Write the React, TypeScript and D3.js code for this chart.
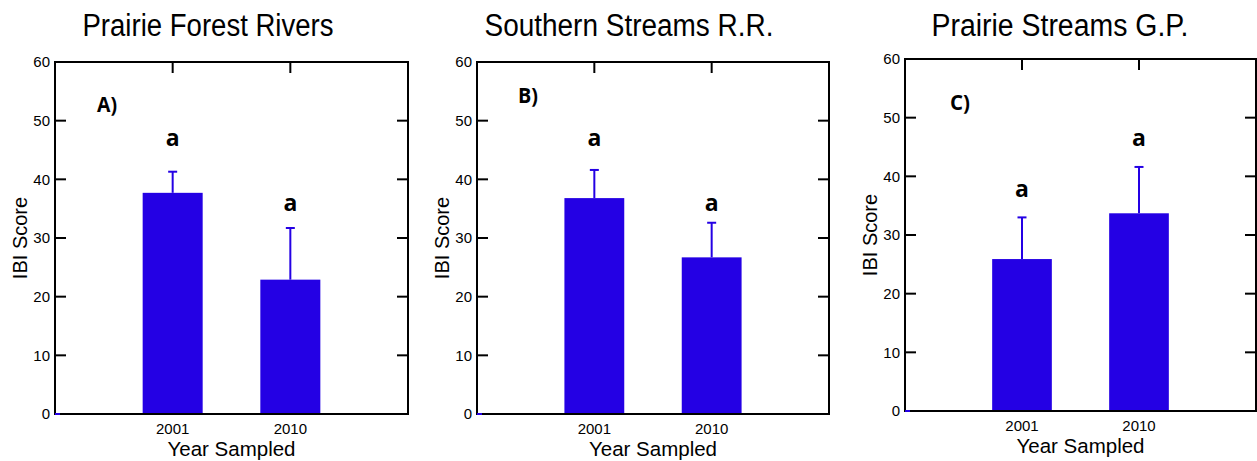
import React from "react";
import * as d3 from "d3";

const categories = ["2001", "2010"];
const panelTitles = ["Prairie Forest Rivers", "Southern Streams R.R.", "Prairie Streams G.P."];
const panelLetters = ["A)", "B)", "C)"];
const meansA = [37.7, 22.9];
const meansB = [36.8, 26.7];
const meansC = [25.9, 33.7];
const errA = [3.6, 8.8];
const errB = [4.8, 5.9];
const errC = [7.1, 7.9];
const sigLetters = ["a", "a"];
const sigPosA = [45.7, 34.6];
const sigPosB = [45.7, 34.6];
const sigPosC = [36.4, 45.2];
const yTicks = [0, 10, 20, 30, 40, 50, 60];

const BLUE = "#2400e4";

const panels = [
  { means: meansA, errs: errA, sig: sigPosA, left: 55, right: 408, top: 62, bottom: 414, titleX: 208, letterDx: 42, letterDy: 50 },
  { means: meansB, errs: errB, sig: sigPosB, left: 477, right: 829, top: 62, bottom: 414, titleX: 629, letterDx: 41, letterDy: 41 },
  { means: meansC, errs: errC, sig: sigPosC, left: 905, right: 1256, top: 59, bottom: 411, titleX: 1060, letterDx: 45, letterDy: 51 },
];
const titleWidths = [251, 289, 257];

function Panel({ p, i }: { p: any; i: number }) {
  const x = d3.scaleLinear().domain([0, categories.length + 1]).range([p.left, p.right]);
  const y = d3.scaleLinear().domain([0, 60]).range([p.bottom, p.top]);
  const halfW = 0.255;
  const tickLen = 11;
  const sans = "Liberation Sans, Arial, sans-serif";
  return (
    <g>
      <text x={p.titleX} y={36} textAnchor="middle" fontFamily={sans} fontSize={31}
        textLength={titleWidths[i]} lengthAdjust="spacingAndGlyphs" fill="#000">{panelTitles[i]}</text>
      {yTicks.map((t) => (
        <g key={t}>
          <line x1={p.left} x2={p.left + tickLen} y1={y(t)} y2={y(t)} stroke="#000" strokeWidth={2} />
          <line x1={p.right - tickLen} x2={p.right} y1={y(t)} y2={y(t)} stroke="#000" strokeWidth={2} />
          <text x={p.left - 5} y={y(t)} dy="0.36em" textAnchor="end" fontFamily={sans} fontSize={15} fill="#000">{t}</text>
        </g>
      ))}
      {categories.map((c, j) => (
        <g key={c}>
          <line x1={x(j + 1)} x2={x(j + 1)} y1={p.top} y2={p.top + tickLen} stroke="#000" strokeWidth={2} />
          <line x1={x(j + 1)} x2={x(j + 1)} y1={p.bottom} y2={p.bottom - tickLen} stroke="#000" strokeWidth={2} />
          <text x={x(j + 1)} y={p.bottom + 20} textAnchor="middle" fontFamily={sans} fontSize={15} fill="#000">{c}</text>
        </g>
      ))}
      {p.means.map((m: number, j: number) => {
        const cx = x(j + 1);
        const x0 = x(j + 1 - halfW);
        const x1 = x(j + 1 + halfW);
        const top = y(m + p.errs[j]);
        return (
          <g key={j}>
            <line x1={cx} x2={cx} y1={y(m)} y2={top} stroke={BLUE} strokeWidth={2} />
            <line x1={cx - 4.5} x2={cx + 4.5} y1={top} y2={top} stroke={BLUE} strokeWidth={2} />
            <rect x={x0} y={y(m)} width={x1 - x0} height={y(0) - y(m)} fill={BLUE} />
            <text x={cx} y={y(p.sig[j])} textAnchor="middle" fontFamily="Open Sans, sans-serif" fontWeight="bold" fontSize={23} fill="#000">{sigLetters[j]}</text>
          </g>
        );
      })}
      <rect x={p.left} y={p.top} width={p.right - p.left} height={p.bottom - p.top} fill="none" stroke="#000" strokeWidth={2} />
      <line x1={p.left} x2={p.left + 5} y1={p.bottom} y2={p.bottom} stroke={BLUE} strokeWidth={2} />
      <text x={p.left + p.letterDx} y={p.top + p.letterDy} fontFamily="Open Sans, sans-serif" fontWeight="bold" fontSize={22}
        textLength={20} lengthAdjust="spacingAndGlyphs" fill="#000">{panelLetters[i]}</text>
      <text transform={`translate(${p.left - 28},${(p.top + p.bottom) / 2}) rotate(-90)`} textAnchor="middle"
        fontFamily={sans} fontSize={20} fill="#000">IBI Score</text>
      <text x={(p.left + p.right) / 2} y={p.bottom + 42} textAnchor="middle" fontFamily={sans} fontSize={20.5} fill="#000">Year Sampled</text>
    </g>
  );
}

export default function App() {
  return (
    <svg width={1257} height={461} style={{ position: "absolute", left: 0, top: 0, background: "#fff" }}>
      <rect width={1257} height={461} fill="#fff" />
      {panels.map((p, i) => (
        <Panel key={i} p={p} i={i} />
      ))}
    </svg>
  );
}
